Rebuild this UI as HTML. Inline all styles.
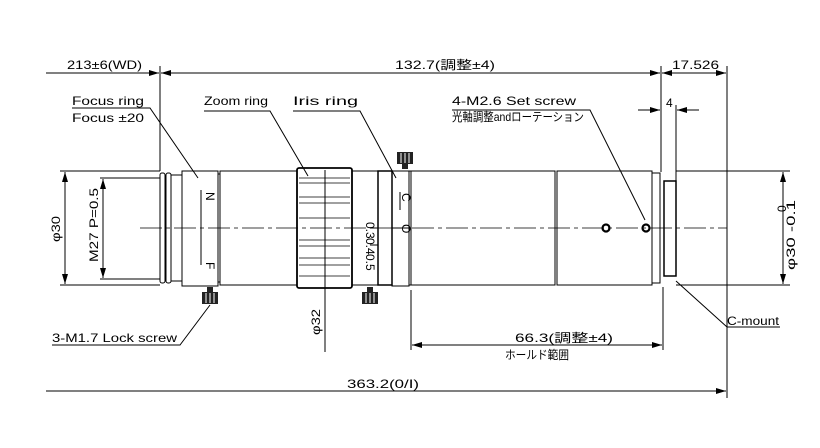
<!DOCTYPE html>
<html><head><meta charset="utf-8"><style>body{margin:0;background:#fff}svg{display:block}text{font-family:"Liberation Sans","Noto Sans CJK JP",sans-serif;font-size:12px;fill:#000}</style></head><body>
<svg width="820" height="448" viewBox="0 0 820 448" xmlns="http://www.w3.org/2000/svg">
<defs><marker id="a" markerWidth="10" markerHeight="6" refX="10" refY="3" orient="auto-start-reverse" markerUnits="userSpaceOnUse"><path d="M0,0 L10,3 L0,6z" fill="#000"/></marker></defs>
<g stroke="#000" stroke-width="1" fill="none">
<line x1="46" y1="73" x2="159" y2="73" marker-end="url(#a)"/>
<line x1="161" y1="73" x2="660" y2="73" marker-start="url(#a)" marker-end="url(#a)"/>
<line x1="662" y1="73" x2="726" y2="73" marker-start="url(#a)" marker-end="url(#a)"/>
<line x1="160" y1="66" x2="160" y2="171"/>
<line x1="661" y1="66" x2="661" y2="172"/>
<line x1="727" y1="66" x2="727" y2="398"/>
<line x1="638" y1="110" x2="660" y2="110" marker-end="url(#a)"/>
<line x1="699" y1="110" x2="677" y2="110" marker-end="url(#a)"/>
<line x1="676" y1="105" x2="676" y2="182"/>
<line x1="140" y1="228" x2="727" y2="228" stroke-dasharray="22,4,4,4" stroke-width="0.8"/>
<line x1="60" y1="171" x2="160" y2="171"/><line x1="60" y1="285" x2="160" y2="285"/>
<line x1="65" y1="172" x2="65" y2="284" marker-start="url(#a)" marker-end="url(#a)"/>
<line x1="100" y1="178" x2="160" y2="178"/><line x1="100" y1="279" x2="160" y2="279"/>
<line x1="103" y1="179" x2="103" y2="278" marker-start="url(#a)" marker-end="url(#a)"/>
<line x1="676" y1="171" x2="790" y2="171"/><line x1="676" y1="285" x2="790" y2="285"/>
<line x1="783" y1="172" x2="783" y2="284" marker-start="url(#a)" marker-end="url(#a)"/>
<rect x="160" y="173" width="5" height="110" rx="2"/>
<rect x="166" y="173" width="5" height="110" rx="2"/>
<rect x="171" y="175" width="11" height="106"/>
<rect x="182" y="171" width="36" height="115"/>
<rect x="218" y="174" width="2" height="108"/>
<rect x="220" y="171" width="77" height="114"/>
<rect x="297" y="168" width="55" height="120" rx="2" stroke-width="1.8"/>
<g stroke-width="0.8"><line x1="299" y1="178" x2="350" y2="178"/><line x1="299" y1="183" x2="350" y2="183"/><line x1="299" y1="197" x2="350" y2="197"/><line x1="299" y1="203" x2="350" y2="203"/><line x1="299" y1="218" x2="350" y2="218"/><line x1="299" y1="240" x2="350" y2="240"/><line x1="299" y1="246" x2="350" y2="246"/><line x1="299" y1="258" x2="350" y2="258"/><line x1="299" y1="265" x2="350" y2="265"/><line x1="299" y1="276" x2="350" y2="276"/></g>
<line x1="325" y1="170" x2="325" y2="352"/>
<rect x="352" y="171" width="26" height="114"/>
<rect x="378" y="171" width="14" height="114" stroke-width="1.5"/>
<rect x="392" y="171" width="17" height="115"/>
<rect x="409" y="171" width="2" height="114"/>
<rect x="411" y="171" width="144" height="114"/>
<rect x="557" y="171" width="95" height="114"/>
<rect x="652" y="173" width="8" height="110"/>
<rect x="664" y="181" width="12" height="95" stroke-width="1.5"/>
<line x1="201" y1="190" x2="201" y2="265"/><line x1="400" y1="192" x2="400" y2="210"/>
<line x1="392" y1="228" x2="410" y2="228"/><line x1="370" y1="228" x2="378" y2="228"/><line x1="370" y1="245" x2="378" y2="245"/>
<circle cx="606" cy="228" r="3.5" stroke-width="2.2"/><circle cx="646" cy="228" r="3.5" stroke-width="2.2"/>
<line x1="411" y1="290" x2="411" y2="350"/><line x1="663" y1="287" x2="663" y2="350"/>
<line x1="412" y1="345" x2="662" y2="345" marker-start="url(#a)" marker-end="url(#a)"/>
<line x1="46" y1="391" x2="726" y2="391" marker-end="url(#a)"/>
<polyline points="72,108 150,108 198,178"/>
<polyline points="204,111 270,111 308,176"/>
<polyline points="293,111 360,111 396,178"/>
<polyline points="452,110 590,110 645,220" />
<polyline points="52,345 180,345 210,305"/>
<polyline points="780,327 727,327 676,281"/>
</g>
<g fill="#222">
<rect x="397" y="152" width="16" height="12"/><rect x="402" y="164" width="6" height="5"/>
<rect x="202" y="292" width="16" height="12"/><rect x="207" y="287" width="6" height="5"/>
<rect x="362" y="292" width="16" height="12"/><rect x="367" y="287" width="6" height="5"/>
</g>
<g stroke="#fff" stroke-width="1">
<line x1="401" y1="153" x2="401" y2="163"/><line x1="405" y1="153" x2="405" y2="163"/><line x1="409" y1="153" x2="409" y2="163"/>
<line x1="206" y1="293" x2="206" y2="303"/><line x1="210" y1="293" x2="210" y2="303"/><line x1="214" y1="293" x2="214" y2="303"/>
<line x1="366" y1="293" x2="366" y2="303"/><line x1="370" y1="293" x2="370" y2="303"/><line x1="374" y1="293" x2="374" y2="303"/>
</g>
<text x="67" y="69" textLength="75" lengthAdjust="spacingAndGlyphs">213±6(WD)</text>
<text x="395" y="69" textLength="100" lengthAdjust="spacingAndGlyphs">132.7(調整±4)</text>
<text x="672" y="69" textLength="47" lengthAdjust="spacingAndGlyphs">17.526</text>
<text x="666" y="107">4</text>
<text x="72" y="105" textLength="72" lengthAdjust="spacingAndGlyphs">Focus ring</text>
<text x="72" y="122" textLength="72" lengthAdjust="spacingAndGlyphs">Focus ±20</text>
<text x="204" y="105" textLength="64" lengthAdjust="spacingAndGlyphs">Zoom ring</text>
<text x="293" y="105" textLength="65" lengthAdjust="spacingAndGlyphs">Iris ring</text>
<text x="452" y="105" textLength="124" lengthAdjust="spacingAndGlyphs">4-M2.6 Set screw</text>
<text x="452" y="121" textLength="132" lengthAdjust="spacingAndGlyphs">光軸調整andローテーション</text>
<text x="52" y="342" textLength="125" lengthAdjust="spacingAndGlyphs">3-M1.7 Lock screw</text>
<text x="727" y="325" textLength="52" lengthAdjust="spacingAndGlyphs">C-mount</text>
<text x="515" y="342" textLength="98" lengthAdjust="spacingAndGlyphs">66.3(調整±4)</text>
<text x="505" y="359" font-size="11" textLength="64" lengthAdjust="spacingAndGlyphs">ホールド範囲</text>
<text x="347" y="388" textLength="72" lengthAdjust="spacingAndGlyphs">363.2(0/I)</text>
<text transform="translate(60,242) rotate(-90)" textLength="26" lengthAdjust="spacingAndGlyphs">φ30</text>
<text transform="translate(98,262) rotate(-90)" textLength="74" lengthAdjust="spacingAndGlyphs">M27 P=0.5</text>
<text transform="translate(320,335) rotate(-90)" textLength="26" lengthAdjust="spacingAndGlyphs">φ32</text>
<text transform="translate(795,270) rotate(-90)" textLength="70" lengthAdjust="spacingAndGlyphs">φ30 -0.1</text>
<text transform="translate(786,212) rotate(-90)" font-size="10">0</text>
<text transform="translate(206,192) rotate(90)" font-size="8">N</text>
<text transform="translate(206,262) rotate(90)" font-size="8">F</text>
<text transform="translate(402,193) rotate(90)" font-size="8">C</text>
<text transform="translate(402,224) rotate(90)" font-size="8">O</text>
<text transform="translate(366,222) rotate(90)" font-size="7">0.3</text>
<text transform="translate(366,238) rotate(90)" font-size="7">0.4</text>
<text transform="translate(366,254) rotate(90)" font-size="7">0.5</text>
</svg>
</body></html>
